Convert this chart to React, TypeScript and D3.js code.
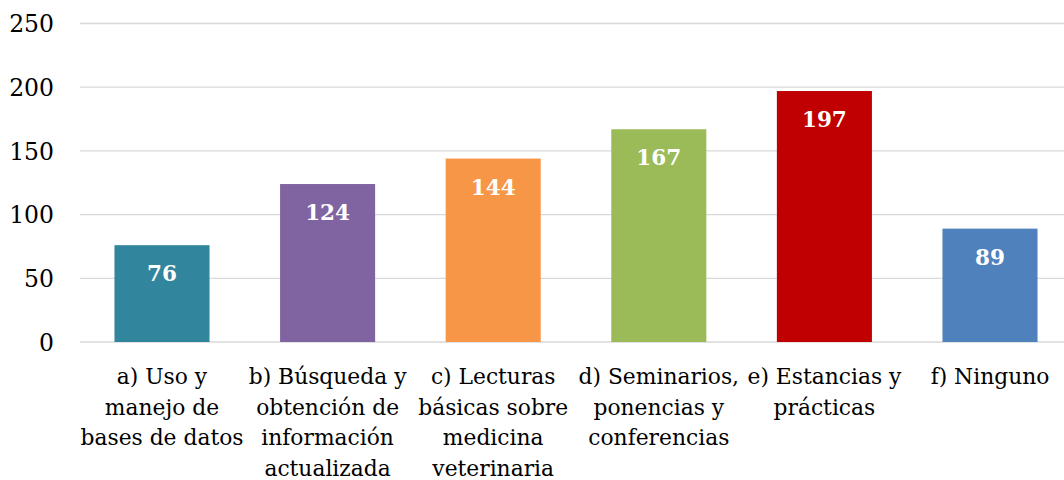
import React from "react";
import * as d3 from "d3";

const categories: string[][] = [
  ["a) Uso y", "manejo de", "bases de datos"],
  ["b) Búsqueda y", "obtención de", "información", "actualizada"],
  ["c) Lecturas", "básicas sobre", "medicina", "veterinaria"],
  ["d) Seminarios,", "ponencias y", "conferencias"],
  ["e) Estancias y", "prácticas"],
  ["f) Ninguno"],
];
const values: number[] = [76, 124, 144, 167, 197, 89];
const colors: string[] = ["#31859C", "#8064A2", "#F79646", "#9BBB59", "#C00000", "#4F81BD"];
const yTicks: number[] = [0, 50, 100, 150, 200, 250];

const W = 1064;
const H = 480;
const FONT = "'DejaVu Serif', Cambria, serif";

export default function App() {
  const ids = categories.map((_, i) => String(i));
  const x = d3.scaleBand<string>().domain(ids).range([79.2, 1072.8]).paddingInner(0.426).paddingOuter(0.213);
  const y = d3.scaleLinear().domain([0, 250]).range([342, 23.5]);

  return (
    <svg width={W} height={H} style={{ position: "absolute", left: 0, top: 0, background: "#fff" }}>
      <rect x={0} y={0} width={W} height={H} fill="#fff" />
      {yTicks.map((t) => (
        <g key={t}>
          <line x1={80} x2={W} y1={y(t)} y2={y(t)} stroke="#D9D9D9" strokeWidth={1.3} />
          <text x={54} y={y(t)} dy="0.37em" textAnchor="end" fontFamily={FONT} fontSize={23.5} fill="#000">
            {t}
          </text>
        </g>
      ))}
      {values.map((v, i) => {
        const bx = x(String(i))!;
        const bw = x.bandwidth();
        return (
          <g key={i}>
            <rect x={bx} y={y(v)} width={bw} height={y(0) - y(v)} fill={colors[i]} />
            <text
              x={bx + bw / 2}
              y={y(v) + 36}
              textAnchor="middle"
              fontFamily={FONT}
              fontWeight="bold"
              fontSize={21.5}
              fill="#fff"
            >
              {v}
            </text>
          </g>
        );
      })}
      {categories.map((lines, i) => {
        const cx = x(String(i))! + x.bandwidth() / 2;
        return (
          <text key={i} x={cx} y={384} textAnchor="middle" fontFamily={FONT} fontSize={21.8} fill="#000">
            {lines.map((l, j) => (
              <tspan key={j} x={cx} dy={j === 0 ? 0 : 30.5}>
                {l}
              </tspan>
            ))}
          </text>
        );
      })}
    </svg>
  );
}
